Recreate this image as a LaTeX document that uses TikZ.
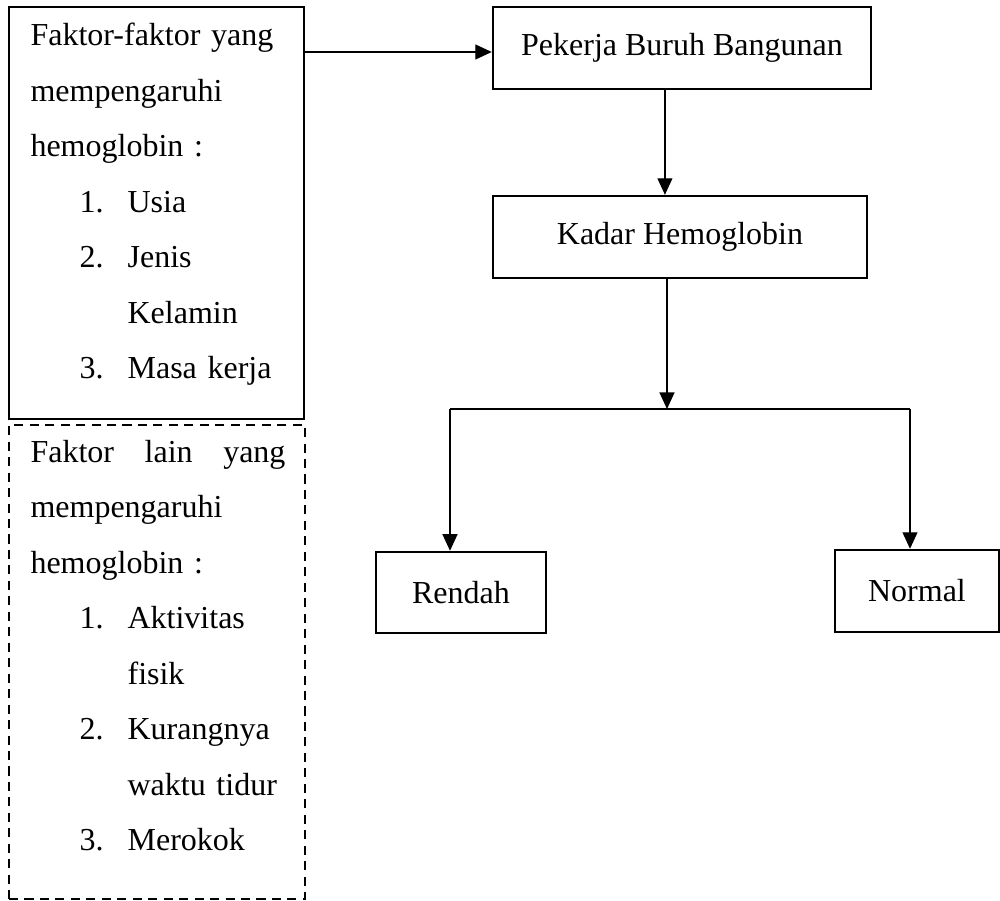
\documentclass[tikz,border=0pt]{standalone}
\usepackage{fontspec}
\setmainfont{Liberation Serif}
\usetikzlibrary{positioning,
                arrows.meta}               % arrow tips

\newcommand{\butir}[2]{\hspace*{18.4pt}\makebox[18pt][l]{#1}#2}
\newcommand{\lanjut}[1]{\hspace*{36.4pt}#1}

\tikzset{
    kotak/.style={draw, line width=0.9pt, inner sep=0pt, font=\fontsize{12}{14}\selectfont},
    kotakputus/.style={draw, line width=0.8pt, dash pattern=on 3.4pt off 2.4pt, inner sep=0pt},
    daftar/.style={inner sep=0pt, text width=95.6pt, align=left, font=\fontsize{12}{20.8}\selectfont},
    panah/.style={-{Triangle[length=6.2pt,width=5.6pt]}, line width=0.5pt},
    garis/.style={line width=0.5pt}
}

\begin{document}
\begin{tikzpicture}[x=0.375pt, y=-0.375pt]
    \useasboundingbox (0,0) rectangle (1000,901);

    % kotak kiri
    \node[kotak, minimum width=110.6pt, minimum height=154.5pt] (faktor) at (156.5,213) {};
    \node[daftar, anchor=base west] (faktorisi) at (30,46) {Faktor-faktor yang\\
        mempengaruhi\\
        hemoglobin :\\
        \butir{1.}{Usia}\\
        \butir{2.}{Jenis}\\
        \lanjut{Kelamin}\\
        \butir{3.}{Masa kerja}};

    \node[kotakputus, minimum width=111pt, minimum height=177.75pt] (lain) at (157,662) {};
    \node[daftar, anchor=base west] (lainisi) at (30,462.5) {Faktor\hfill lain\hfill yang\\
        mempengaruhi\\
        hemoglobin :\\
        \butir{1.}{Aktivitas}\\
        \lanjut{fisik}\\
        \butir{2.}{Kurangnya}\\
        \lanjut{waktu tidur}\\
        \butir{3.}{Merokok}};

    % alur kanan
    \node[kotak, minimum width=141.75pt, minimum height=30.75pt] (pekerja) at (682,48) {Pekerja Buruh Bangunan};
    \node[kotak, minimum width=140.25pt, minimum height=30.75pt] (kadar) at (680,237) {Kadar Hemoglobin};
    \node[kotak, minimum width=63.75pt, minimum height=30.4pt] (rendah) at (461,592.5) {Rendah};
    \node[kotak, minimum width=61.5pt, minimum height=30.75pt] (normal) at (917,591) {Normal};

    \coordinate (masuk) at (305,52);
    \draw[panah] (masuk) -- (masuk -| pekerja.west);
    \draw[panah] ([xshift=-6.4pt]pekerja.south) coordinate (turun) -- (turun |- kadar.north);

    \coordinate (cabang) at (667,409);
    \coordinate (cabangkiri) at (450,409);
    \coordinate (cabangkanan) at (910,409);
    \draw[panah] (kadar.south -| cabang) -- (cabang);
    \draw[garis] (cabangkiri) -- (cabangkanan);
    \draw[panah] (cabangkiri) -- (cabangkiri |- rendah.north);
    \draw[panah] (cabangkanan) -- (cabangkanan |- normal.north);
\end{tikzpicture}
\end{document}
